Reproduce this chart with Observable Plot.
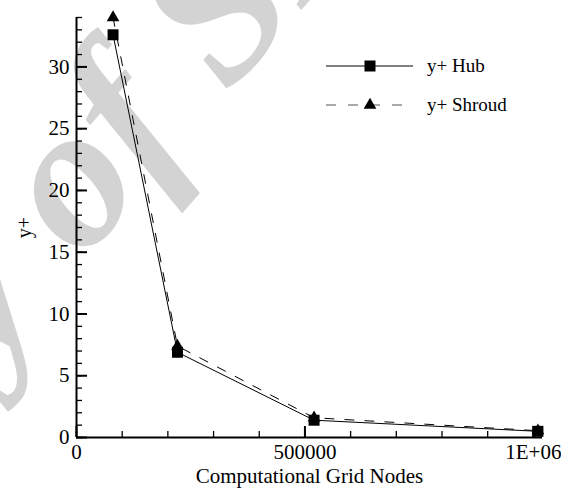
<!DOCTYPE html>
<html>
<head>
<meta charset="utf-8">
<script src="https://cdn.jsdelivr.net/npm/d3@7"></script>
<script src="https://cdn.jsdelivr.net/npm/@observablehq/plot@0.6"></script>
<style>
  html, body { margin: 0; padding: 0; background: #fff; }
  #wrap { position: relative; width: 561px; height: 488px; overflow: hidden; }
  #wrap > svg { position: absolute; left: 0; top: 0; }
</style>
</head>
<body>
<div id="wrap"></div>
<script>
// Grid-convergence study: y+ at hub and shroud versus mesh size
const gridNodes   = [80000, 221000, 520000, 1010000];
const yPlusHub    = [32.6, 6.9, 1.4, 0.5];
const yPlusShroud = [34.0, 7.4, 1.6, 0.55];

const seriesNames = ["y+ Hub", "y+ Shroud"];
const xMajorTicks = [0, 500000, 1000000];
const xTickLabels = ["0", "500000", "1E+06"];
const xMinorTicks = d3.range(0, 1000001, 100000);
const yMajorTicks = [0, 5, 10, 15, 20, 25, 30];
const yMinorTicks = d3.range(0, 35, 1);

const hub = gridNodes.map((x, i) => ({x, y: yPlusHub[i]}));
const shroud = gridNodes.map((x, i) => ({x, y: yPlusShroud[i]}));

const serif = "\"Liberation Serif\", serif";
const W = 561, H = 488;
const wrap = document.getElementById("wrap");

// faint background stamp
const stamp = d3.create("svg").attr("width", W).attr("height", H);
const g = stamp.append("g").attr("transform", "translate(82,262) rotate(-49)")
  .style("font-family", serif).style("font-style", "italic").style("font-weight", "bold")
  .attr("font-size", 205).attr("fill", "#d3d3d3");
g.append("text").attr("x", -50).attr("text-anchor", "end").text("Copy");
g.append("text").attr("x", 0).text("of SBS");
wrap.appendChild(stamp.node());

const chart = Plot.plot({
  width: W,
  height: H,
  marginLeft: 76,
  marginRight: 19,
  marginTop: 17,
  marginBottom: 51,
  style: {background: "none", fontFamily: serif, color: "black"},
  x: {domain: [0, 1020000]},
  y: {domain: [0, 34]},
  marks: [
    Plot.axisY({ticks: yMinorTicks, tickSize: -6, tickFormat: () => "", strokeWidth: 1.3, label: null}),
    Plot.axisY({ticks: yMajorTicks, tickSize: -11, tickPadding: 18, strokeWidth: 2, fontSize: 21, label: null}),
    Plot.axisX({ticks: xMinorTicks, tickSize: -6, tickFormat: () => "", strokeWidth: 1.3, label: null}),
    Plot.axisX({ticks: xMajorTicks, tickSize: -11, tickPadding: 18, strokeWidth: 2, fontSize: 21, label: null,
      tickFormat: (d) => xTickLabels[xMajorTicks.indexOf(d)]}),
    Plot.ruleX([0], {stroke: "black", strokeWidth: 2}),
    Plot.ruleY([0], {stroke: "black", strokeWidth: 2}),
    Plot.line(shroud, {x: "x", y: "y", stroke: "black", strokeWidth: 1, strokeDasharray: "9,11"}),
    Plot.line(hub, {x: "x", y: "y", stroke: "black", strokeWidth: 1}),
    Plot.dot(shroud, {x: "x", y: "y", symbol: "triangle", r: 4.7, fill: "black", stroke: "none"}),
    Plot.dot(hub, {x: "x", y: "y", symbol: "square", r: 6.2, fill: "black", stroke: "none"}),
    Plot.text(["y+"], {frameAnchor: "left", textAnchor: "middle", lineAnchor: "middle", rotate: -90, dx: -52, fontSize: 20, fill: "black"}),
    Plot.text(["Computational Grid Nodes"], {frameAnchor: "bottom", textAnchor: "middle", lineAnchor: "middle", dy: 39, fontSize: 21, fill: "black"})
  ]
});
wrap.appendChild(chart);

// legend box in the upper right
const leg = d3.create("svg").attr("width", W).attr("height", H).style("font-family", serif);
const rows = [
  {name: seriesNames[0], y: 66, dash: null, sym: d3.symbolSquare, size: 121, x2: 413},
  {name: seriesNames[1], y: 105, dash: "10,12", sym: d3.symbolTriangle, size: 70, x2: 402}
];
for (const r of rows) {
  leg.append("line").attr("x1", 326).attr("x2", r.x2).attr("y1", r.y).attr("y2", r.y)
    .attr("stroke", r.dash ? "#555" : "black").attr("stroke-width", 1)
    .attr("stroke-dasharray", r.dash);
  leg.append("path").attr("transform", `translate(370,${r.y})`)
    .attr("d", d3.symbol(r.sym, r.size)()).attr("fill", "black");
  leg.append("text").attr("x", 427).attr("y", r.y).attr("dy", "0.32em")
    .attr("font-size", 19).attr("fill", "black").text(r.name);
}
wrap.appendChild(leg.node());
</script>
</body>
</html>
